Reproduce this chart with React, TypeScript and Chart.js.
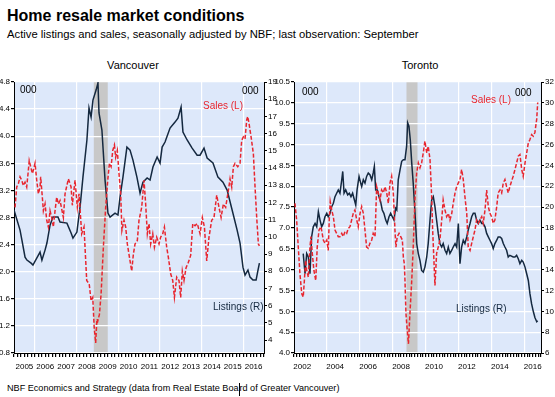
import React, { useEffect, useRef } from 'react';
import { Chart, registerables } from 'chart.js';

Chart.register(...registerables);

// ---------------- DATA ----------------
// [decimal year, value]
const vancouverSales: [number, number][] = [
  [2005.05, 2.95], [2005.13, 3.25], [2005.21, 3.30], [2005.29, 3.40], [2005.37, 3.35], [2005.45, 3.27],
  [2005.53, 3.32], [2005.61, 3.25], [2005.69, 3.50], [2005.73, 3.64], [2005.80, 3.55], [2005.88, 3.45],
  [2005.93, 3.50], [2006.01, 3.60], [2006.09, 3.35], [2006.17, 3.15], [2006.25, 3.25], [2006.28, 3.40],
  [2006.36, 3.10], [2006.41, 2.90], [2006.49, 3.00], [2006.57, 2.76], [2006.65, 2.66], [2006.73, 2.90],
  [2006.81, 2.80], [2006.89, 2.66], [2006.97, 2.90], [2007.05, 3.10], [2007.13, 3.00], [2007.21, 3.05],
  [2007.37, 2.80], [2007.45, 3.15], [2007.61, 3.37], [2007.74, 3.25], [2007.80, 2.98], [2007.93, 3.35],
  [2008.04, 2.95], [2008.12, 3.15], [2008.25, 2.56], [2008.36, 2.66], [2008.49, 1.87], [2008.61, 1.82],
  [2008.70, 1.57], [2008.78, 1.62], [2008.85, 1.17], [2008.92, 0.95], [2008.98, 1.30], [2009.02, 1.27],
  [2009.10, 1.37], [2009.18, 1.67], [2009.29, 2.36], [2009.40, 2.95], [2009.50, 3.35], [2009.58, 3.60],
  [2009.66, 3.55], [2009.74, 3.79], [2009.82, 3.87], [2009.88, 3.69], [2009.96, 3.79], [2010.04, 3.45],
  [2010.12, 3.15], [2010.18, 2.61], [2010.28, 2.76], [2010.36, 2.66], [2010.44, 2.41], [2010.57, 2.16],
  [2010.65, 2.01], [2010.73, 2.26], [2010.81, 2.41], [2010.92, 2.46], [2011.00, 2.76], [2011.13, 2.95],
  [2011.24, 3.35], [2011.32, 3.00], [2011.40, 2.56], [2011.48, 2.71], [2011.56, 2.41], [2011.66, 2.56],
  [2011.74, 2.36], [2011.85, 2.51], [2011.96, 2.41], [2012.04, 2.51], [2012.14, 2.56], [2012.22, 2.66],
  [2012.33, 2.36], [2012.41, 2.21], [2012.52, 1.97], [2012.62, 1.87], [2012.70, 1.62], [2012.81, 1.92],
  [2012.92, 1.87], [2013.00, 1.62], [2013.08, 2.01], [2013.16, 1.87], [2013.26, 2.06], [2013.37, 2.14],
  [2013.48, 2.24], [2013.58, 2.71], [2013.69, 2.68], [2013.80, 2.71], [2013.93, 2.56], [2014.04, 2.80],
  [2014.14, 2.66], [2014.25, 2.16], [2014.36, 2.51], [2014.49, 2.76], [2014.60, 2.80], [2014.73, 3.13],
  [2014.84, 2.95], [2014.94, 2.80], [2015.05, 3.00], [2015.16, 2.95], [2015.29, 3.20], [2015.37, 3.37],
  [2015.45, 3.25], [2015.53, 3.55], [2015.61, 3.60], [2015.74, 3.55], [2015.85, 3.60], [2015.93, 3.94],
  [2016.01, 3.99], [2016.09, 3.96], [2016.17, 4.24], [2016.22, 4.29], [2016.28, 4.19], [2016.38, 3.99],
  [2016.49, 3.74], [2016.57, 3.25], [2016.65, 2.80], [2016.73, 2.41], [2016.78, 2.38],
];

const vancouverListings: [number, number][] = [
  [2005.00, 11.56], [2005.29, 10.39], [2005.38, 9.81], [2005.53, 8.82], [2005.62, 8.65], [2005.82, 8.47],
  [2005.91, 8.36], [2006.25, 9.11], [2006.34, 8.65], [2006.49, 9.23], [2006.58, 9.64], [2006.73, 10.68],
  [2006.87, 11.15], [2007.11, 11.15], [2007.21, 10.86], [2007.54, 10.80], [2007.74, 10.22], [2007.83, 9.93],
  [2008.02, 10.28], [2008.17, 11.73], [2008.31, 13.47], [2008.50, 15.63], [2008.60, 17.49], [2008.70, 16.96],
  [2008.79, 17.95], [2008.94, 18.53], [2009.03, 18.94], [2009.08, 17.20], [2009.22, 16.21], [2009.37, 13.30],
  [2009.51, 11.38], [2009.61, 11.15], [2009.85, 11.38], [2009.99, 11.27], [2010.09, 12.31], [2010.23, 13.47],
  [2010.42, 15.22], [2010.57, 15.04], [2010.71, 14.46], [2010.90, 13.47], [2011.05, 12.54], [2011.19, 13.18],
  [2011.39, 13.42], [2011.53, 13.30], [2011.67, 14.06], [2011.87, 14.64], [2012.01, 14.29], [2012.11, 15.22],
  [2012.25, 15.51], [2012.49, 16.32], [2012.73, 16.67], [2012.87, 16.90], [2013.02, 17.54], [2013.11, 16.09],
  [2013.31, 15.63], [2013.55, 15.16], [2013.79, 14.75], [2013.93, 14.75], [2014.12, 15.16], [2014.27, 14.58],
  [2014.55, 14.29], [2014.79, 13.47], [2015.03, 13.18], [2015.23, 12.72], [2015.47, 11.56], [2015.71, 10.39],
  [2015.85, 9.64], [2015.99, 8.24], [2016.09, 7.78], [2016.23, 8.07], [2016.33, 7.66], [2016.47, 7.49],
  [2016.62, 7.49], [2016.70, 8.00], [2016.78, 8.47],
];

const torontoSales: [number, number][] = [
  [2002.06, 7.59], [2002.16, 7.19], [2002.26, 6.54], [2002.36, 5.90], [2002.47, 5.42], [2002.56, 5.34],
  [2002.63, 5.74], [2002.71, 6.22], [2002.77, 5.98], [2002.87, 5.82], [2002.97, 6.54], [2003.03, 6.79],
  [2003.11, 6.39], [2003.21, 5.98], [2003.32, 5.74], [2003.41, 6.54], [2003.52, 6.95], [2003.64, 7.03],
  [2003.78, 6.71], [2003.88, 6.63], [2003.99, 6.71], [2004.08, 6.46], [2004.14, 7.19], [2004.20, 7.63],
  [2004.29, 7.43], [2004.39, 7.27], [2004.49, 6.95], [2004.59, 6.87], [2004.69, 6.79], [2004.79, 6.79],
  [2004.90, 6.87], [2004.99, 6.79], [2005.10, 6.91], [2005.20, 6.87], [2005.30, 6.99], [2005.40, 7.03],
  [2005.50, 7.19], [2005.60, 7.35], [2005.70, 7.43], [2005.81, 7.19], [2005.90, 7.03], [2006.01, 7.35],
  [2006.11, 7.51], [2006.21, 7.35], [2006.31, 6.95], [2006.41, 6.54], [2006.51, 6.51], [2006.61, 6.63],
  [2006.72, 6.71], [2006.81, 6.87], [2006.92, 6.79], [2007.02, 7.99], [2007.12, 7.84], [2007.22, 7.67],
  [2007.32, 7.91], [2007.42, 7.84], [2007.53, 7.99], [2007.63, 7.84], [2007.73, 7.59], [2007.83, 8.08],
  [2007.93, 8.24], [2008.03, 7.84], [2008.09, 7.35], [2008.13, 6.95], [2008.19, 6.54], [2008.27, 6.79],
  [2008.38, 6.87], [2008.48, 6.79], [2008.58, 6.71], [2008.64, 6.30], [2008.70, 6.14], [2008.74, 5.74],
  [2008.80, 4.94], [2008.88, 4.53], [2008.95, 4.22], [2009.04, 4.94], [2009.15, 5.74], [2009.24, 6.54],
  [2009.35, 7.75], [2009.45, 8.32], [2009.55, 8.56], [2009.65, 8.44], [2009.75, 8.56], [2009.85, 8.80],
  [2009.95, 9.08], [2010.06, 8.80], [2010.15, 8.96], [2010.26, 8.64], [2010.36, 7.75], [2010.42, 6.95],
  [2010.48, 6.39], [2010.56, 5.62], [2010.66, 6.39], [2010.76, 6.54], [2010.86, 6.71], [2010.97, 7.19],
  [2011.06, 7.67], [2011.17, 7.43], [2011.27, 7.27], [2011.37, 7.35], [2011.47, 7.19], [2011.58, 7.35],
  [2011.67, 7.59], [2011.78, 7.84], [2011.88, 7.99], [2011.98, 8.08], [2012.08, 8.16], [2012.18, 8.40],
  [2012.28, 8.16], [2012.38, 7.75], [2012.49, 7.35], [2012.58, 6.54], [2012.69, 6.46], [2012.79, 6.63],
  [2012.89, 6.79], [2012.99, 6.95], [2013.09, 7.19], [2013.19, 7.11], [2013.29, 7.19], [2013.40, 7.27],
  [2013.49, 7.11], [2013.60, 7.43], [2013.70, 7.91], [2013.80, 7.51], [2013.90, 7.35], [2014.00, 7.27],
  [2014.10, 7.11], [2014.20, 7.19], [2014.31, 7.51], [2014.40, 7.84], [2014.51, 7.91], [2014.61, 7.84],
  [2014.71, 8.08], [2014.81, 8.16], [2014.91, 7.99], [2015.01, 7.84], [2015.11, 7.99], [2015.31, 8.24],
  [2015.42, 8.40], [2015.52, 8.56], [2015.62, 8.72], [2015.72, 8.76], [2015.83, 8.40], [2015.92, 8.24],
  [2016.03, 8.56], [2016.13, 8.80], [2016.23, 9.04], [2016.33, 9.12], [2016.43, 9.24], [2016.53, 9.20],
  [2016.63, 9.29], [2016.74, 9.61], [2016.80, 10.01],
];

const torontoListings: [number, number][] = [
  [2002.56, 15.54], [2002.67, 13.60], [2002.77, 15.54], [2002.87, 15.21], [2002.97, 13.60], [2003.07, 17.14],
  [2003.17, 18.11], [2003.28, 18.43], [2003.38, 18.11], [2003.48, 19.56], [2003.58, 18.75], [2003.68, 18.11],
  [2003.78, 18.43], [2003.88, 19.07], [2003.99, 19.40], [2004.08, 19.07], [2004.19, 19.40], [2004.29, 20.04],
  [2004.39, 20.37], [2004.49, 21.00], [2004.59, 21.33], [2004.69, 21.65], [2004.79, 21.33], [2004.90, 22.62],
  [2004.96, 23.42], [2005.04, 21.33], [2005.14, 21.65], [2005.26, 21.17], [2005.36, 21.33], [2005.46, 21.00],
  [2005.56, 21.33], [2005.64, 20.85], [2005.75, 20.20], [2005.83, 21.65], [2005.95, 22.94], [2006.05, 22.30],
  [2006.11, 21.97], [2006.21, 22.62], [2006.31, 22.30], [2006.41, 22.94], [2006.51, 23.27], [2006.61, 23.10],
  [2006.72, 22.62], [2006.81, 23.27], [2006.88, 23.90], [2006.96, 21.65], [2007.06, 21.65], [2007.16, 21.00],
  [2007.26, 20.52], [2007.36, 19.72], [2007.46, 19.40], [2007.57, 18.75], [2007.66, 18.43], [2007.77, 19.07],
  [2007.87, 19.40], [2007.97, 19.07], [2008.07, 18.75], [2008.17, 19.88], [2008.24, 19.72], [2008.33, 22.62],
  [2008.44, 23.58], [2008.54, 24.39], [2008.64, 24.55], [2008.74, 24.55], [2008.84, 25.84], [2008.90, 28.10],
  [2008.98, 27.77], [2009.06, 26.48], [2009.15, 24.23], [2009.24, 22.30], [2009.35, 19.40], [2009.45, 16.50],
  [2009.55, 15.54], [2009.65, 14.89], [2009.75, 13.92], [2009.85, 13.76], [2009.95, 14.24], [2010.06, 15.21],
  [2010.15, 16.50], [2010.26, 18.75], [2010.36, 20.69], [2010.46, 21.00], [2010.56, 20.04], [2010.66, 18.75],
  [2010.76, 17.47], [2010.86, 16.50], [2010.97, 16.17], [2011.06, 16.50], [2011.17, 15.86], [2011.27, 15.54],
  [2011.37, 16.17], [2011.47, 15.54], [2011.58, 15.86], [2011.67, 16.17], [2011.78, 16.50], [2011.88, 16.17],
  [2011.98, 18.43], [2012.08, 14.57], [2012.18, 16.17], [2012.28, 16.82], [2012.38, 16.50], [2012.49, 17.14],
  [2012.58, 17.79], [2012.69, 18.43], [2012.79, 19.07], [2012.89, 19.40], [2012.99, 19.40], [2013.09, 18.75],
  [2013.19, 18.43], [2013.29, 18.75], [2013.40, 18.43], [2013.49, 18.43], [2013.60, 18.11], [2013.70, 17.47],
  [2013.80, 17.14], [2013.90, 16.82], [2014.00, 16.50], [2014.10, 16.02], [2014.20, 16.50], [2014.31, 16.82],
  [2014.40, 17.14], [2014.51, 17.14], [2014.61, 16.99], [2014.71, 16.50], [2014.81, 16.17], [2014.91, 15.86],
  [2015.01, 15.21], [2015.11, 15.37], [2015.31, 15.21], [2015.42, 15.21], [2015.52, 15.37], [2015.62, 15.05],
  [2015.72, 14.57], [2015.83, 14.89], [2015.92, 14.72], [2016.03, 14.24], [2016.13, 13.60], [2016.23, 12.96],
  [2016.33, 11.67], [2016.43, 10.71], [2016.53, 10.00], [2016.63, 9.40], [2016.74, 9.00], [2016.80, 9.10],
];

const recession: [number, number] = [2008.83, 2009.5];

const vancouverYearLabels = [2005, 2006, 2007, 2008, 2009, 2010, 2011, 2012, 2013, 2014, 2015, 2016];
const vancouverGridYears = [2006, 2008, 2010, 2012, 2014, 2016];
const torontoYearLabels = [2002, 2004, 2006, 2008, 2010, 2012, 2014, 2016];
const torontoGridYears = [2004, 2006, 2008, 2010, 2012, 2014, 2016];

const vancouverSalesAxis = { min: 0.8, max: 4.8, step: 0.4 };
const vancouverListingsAxis = { min: 3.25, max: 19, step: 1 };
const torontoSalesAxis = { min: 4.0, max: 10.5, step: 0.5 };
const torontoListingsAxis = { min: 6, max: 32, step: 2 };

// ---------------- STYLE ----------------
const RED = '#e8262f';
const NAVY = '#14283f';
const PLOT_BG = '#dde8fa';
const BAND = '#c8c8c8';
const TICK_FONT = { family: "'Liberation Sans Narrow', 'Arial Narrow', 'Liberation Sans', Arial, sans-serif", size: 8 };
const FONT = "'Liberation Sans', Arial, Helvetica, sans-serif";

const near = (a: number, b: number) => Math.abs(a - b) < 1e-6;

const bgPlugin = {
  id: 'bgband',
  beforeDraw(chart: any, _args: any, opts: any) {
    const { ctx, chartArea: a, scales } = chart;
    ctx.save();
    ctx.fillStyle = PLOT_BG;
    ctx.fillRect(a.left, a.top, a.right - a.left, a.bottom - a.top);
    const x0 = scales.x.getPixelForValue(opts.start);
    const x1 = scales.x.getPixelForValue(opts.end);
    ctx.fillStyle = BAND;
    ctx.fillRect(x0, a.top, x1 - x0, a.bottom - a.top);
    ctx.restore();
  },
};

interface PanelOpts {
  sales: [number, number][];
  listings: [number, number][];
  xMin: number;
  xMax: number;
  labelYears: number[];
  gridYears: number[];
  left: { min: number; max: number; step: number };
  right: { min: number; max: number; step: number };
  leftWidth: number;
  rightWidth: number;
}

function makeConfig(o: PanelOpts): any {
  return {
    type: 'line',
    data: {
      datasets: [
        {
          label: 'Sales (L)',
          data: o.sales.map(([x, y]) => ({ x, y })),
          yAxisID: 'y',
          borderColor: RED,
          borderWidth: 1.5,
          borderDash: [4, 2],
          pointRadius: 0,
          fill: false,
          tension: 0,
        },
        {
          label: 'Listings (R)',
          data: o.listings.map(([x, y]) => ({ x, y })),
          yAxisID: 'y1',
          borderColor: NAVY,
          borderWidth: 1.5,
          pointRadius: 0,
          fill: false,
          tension: 0,
        },
      ],
    },
    options: {
      responsive: false,
      animation: false,
      devicePixelRatio: 1,
      layout: { padding: { top: 12, left: 0, right: 0, bottom: 0 } },
      plugins: {
        legend: { display: false },
        tooltip: { enabled: false },
        bgband: { start: recession[0], end: recession[1] },
      },
      scales: {
        x: {
          type: 'linear',
          min: o.xMin,
          max: o.xMax,
          afterBuildTicks: (s: any) => {
            const t: any[] = [];
            const months = Math.round((o.xMax - o.xMin) * 12);
            for (let m = 0; m <= months; m += 2) t.push({ value: o.xMin + m / 12 });
            s.ticks = t;
          },
          afterFit: (s: any) => {
            s.height = 22;
          },
          grid: {
            color: (c: any) => {
              const v = c.tick ? c.tick.value : NaN;
              const r = Math.round(v);
              return near(v, r) && o.gridYears.includes(r) ? '#ffffff' : 'rgba(0,0,0,0)';
            },
            lineWidth: 1.2,
            tickColor: '#000',
            tickLength: 4,
            drawOnChartArea: true,
          },
          border: { color: '#000', width: 1 },
          ticks: {
            autoSkip: false,
            maxRotation: 0,
            minRotation: 0,
            padding: 5,
            color: '#000',
            font: TICK_FONT,
            callback: (v: number) => {
              const y = Math.floor(v + 1e-6);
              return near(v - y, 0.5) && o.labelYears.includes(y) ? String(y) : '';
            },
          },
        },
        y: {
          position: 'left',
          min: o.left.min,
          max: o.left.max,
          afterFit: (s: any) => {
            s.width = o.leftWidth;
          },
          grid: { color: '#ffffff', lineWidth: 1.2, tickColor: '#000', tickLength: 3 },
          border: { color: '#000', width: 1 },
          ticks: {
            stepSize: o.left.step,
            padding: 1,
            color: '#000',
            font: TICK_FONT,
            callback: (v: number) => Number(v).toFixed(1),
          },
        },
        y1: {
          position: 'right',
          min: o.right.min,
          max: o.right.max,
          afterBuildTicks: (s: any) => {
            s.ticks = s.ticks.filter((t: any) => near(t.value / o.right.step, Math.round(t.value / o.right.step)));
          },
          afterFit: (s: any) => {
            s.width = o.rightWidth;
          },
          grid: { drawOnChartArea: false, tickColor: '#000', tickLength: 3 },
          border: { color: '#000', width: 1 },
          ticks: {
            stepSize: o.right.step,
            padding: 1,
            color: '#000',
            font: TICK_FONT,
            callback: (v: number) => String(Math.round(v)),
          },
        },
      },
    },
    plugins: [bgPlugin],
  };
}

const txt = (extra: React.CSSProperties): React.CSSProperties => ({
  position: 'absolute',
  whiteSpace: 'nowrap',
  lineHeight: 1,
  fontFamily: FONT,
  ...extra,
});

export default function App() {
  const ref1 = useRef<HTMLCanvasElement>(null);
  const ref2 = useRef<HTMLCanvasElement>(null);

  useEffect(() => {
    document.body.style.margin = '0';
    const c1 = new Chart(
      ref1.current as HTMLCanvasElement,
      makeConfig({
        sales: vancouverSales,
        listings: vancouverListings,
        xMin: 2005,
        xMax: 2017,
        labelYears: vancouverYearLabels,
        gridYears: vancouverGridYears,
        left: vancouverSalesAxis,
        right: vancouverListingsAxis,
        leftWidth: 14,
        rightWidth: 16,
      })
    );
    const c2 = new Chart(
      ref2.current as HTMLCanvasElement,
      makeConfig({
        sales: torontoSales,
        listings: torontoListings,
        xMin: 2002,
        xMax: 2017,
        labelYears: torontoYearLabels,
        gridYears: torontoGridYears,
        left: torontoSalesAxis,
        right: torontoListingsAxis,
        leftWidth: 22,
        rightWidth: 14,
      })
    );
    return () => {
      c1.destroy();
      c2.destroy();
    };
  }, []);

  return (
    <div style={{ position: 'relative', width: 555, height: 397, background: '#fff', overflow: 'hidden' }}>
      <div style={txt({ left: 7, top: 8, fontSize: 16, fontWeight: 'bold', color: '#000' })}>
        Home resale market conditions
      </div>
      <div style={txt({ left: 7, top: 28.5, fontSize: 11.25, color: '#000' })}>
        Active listings and sales, seasonally adjusted by NBF; last observation: September
      </div>
      <div style={txt({ left: 133, top: 59.5, fontSize: 11, color: '#000', transform: 'translateX(-50%)' })}>Vancouver</div>
      <div style={txt({ left: 420, top: 59.5, fontSize: 11, color: '#000', transform: 'translateX(-50%)' })}>Toronto</div>

      <canvas
        ref={ref1}
        width={280}
        height={305}
        style={{ position: 'absolute', left: 0, top: 70, width: 280, height: 305 }}
      />
      <canvas
        ref={ref2}
        width={283}
        height={305}
        style={{ position: 'absolute', left: 272, top: 70, width: 283, height: 305 }}
      />

      <div style={txt({ left: 20, top: 85, fontSize: 10, color: '#000' })}>000</div>
      <div style={txt({ left: 242, top: 85.5, fontSize: 10, color: '#000' })}>000</div>
      <div style={txt({ left: 302, top: 86.5, fontSize: 10, color: '#000' })}>000</div>
      <div style={txt({ left: 515, top: 87.5, fontSize: 10, color: '#000' })}>000</div>

      <div style={txt({ left: 203, top: 101, fontSize: 10, color: RED })}>Sales (L)</div>
      <div style={txt({ left: 213, top: 302, fontSize: 10, color: NAVY })}>Listings (R)</div>
      <div style={txt({ left: 471, top: 95, fontSize: 10, color: RED })}>Sales (L)</div>
      <div style={txt({ left: 456, top: 304, fontSize: 10, color: NAVY })}>Listings (R)</div>

      <div style={txt({ left: 7, top: 384, fontSize: 9.1, color: '#000' })}>
        NBF Economics and Strategy (data from Real Estate Boa
        <span style={{ display: 'inline-block', width: 1, height: 13, background: '#000', verticalAlign: 'top', marginTop: -1 }} />
        rd of Greater Vancouver)
      </div>
    </div>
  );
}
